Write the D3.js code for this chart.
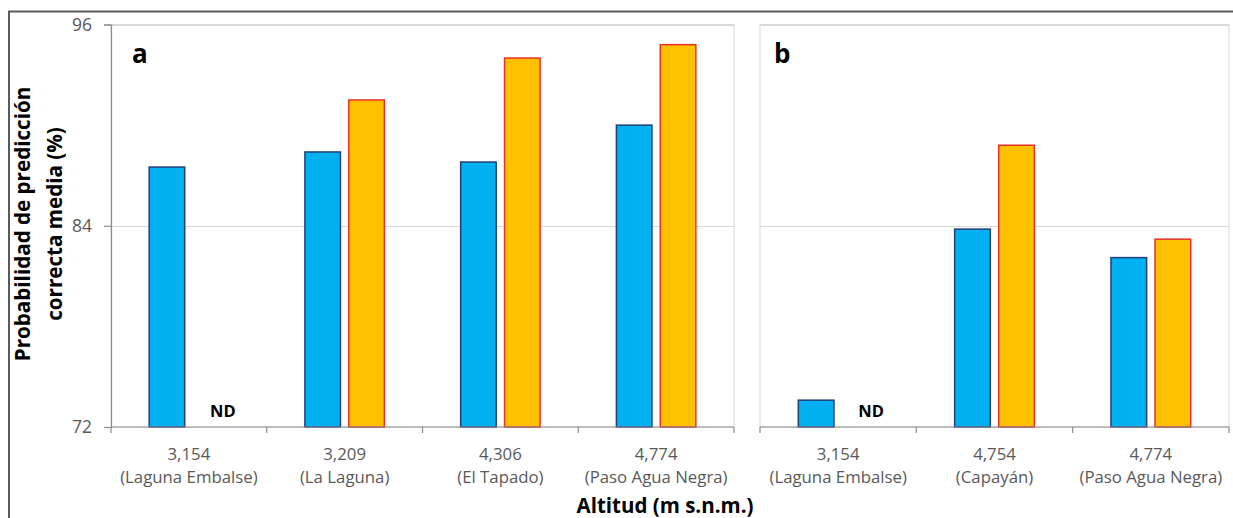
<!DOCTYPE html>
<html>
<head>
<meta charset="utf-8">
<script src="https://cdn.jsdelivr.net/npm/d3@7"></script>
<style>
  html, body { margin: 0; padding: 0; background: #fff; }
  svg { display: block; font-family: "Open Sans", Lato, sans-serif; }
</style>
</head>
<body>
<svg id="chart" width="1233" height="518"></svg>
<script>
// Panel a: four sites
const altitudesA = ["3,154", "3,209", "4,306", "4,774"];
const sitesA = ["Laguna Embalse", "La Laguna", "El Tapado", "Paso Agua Negra"];
const blueA = [87.5, 88.4, 87.8, 90.0];
const orangeA = [null, 91.5, 94.0, 94.8];

// Panel b: three sites
const altitudesB = ["3,154", "4,754", "4,774"];
const sitesB = ["Laguna Embalse", "Capayán", "Paso Agua Negra"];
const blueB = [73.6, 83.8, 82.1];
const orangeB = [null, 88.8, 83.2];

const yTicks = [72, 84, 96];
const seriesKeys = ["blue", "orange"];

const svg = d3.select("#chart");

const fills = { blue: "#00b0f0", orange: "#ffc000" };
const strokes = { blue: "#1f3f7a", orange: "#e8302a" };

// outer frame
svg.append("line").attr("x1", 8).attr("x2", 1233).attr("y1", 11.5).attr("y2", 11.5)
  .attr("stroke", "#5a5a5a").attr("stroke-width", 2);
svg.append("line").attr("x1", 9).attr("x2", 9).attr("y1", 11).attr("y2", 518)
  .attr("stroke", "#5a5a5a").attr("stroke-width", 2);

const y = d3.scaleLinear().domain([72, 96]).range([427, 24.5]);

function panel(opts) {
  const { x0, x1, altitudes, sites, blue, orange, letter, showY, ndOffset } = opts;
  const g = svg.append("g");
  const cats = altitudes.map((a, i) => i);
  const x = d3.scaleBand().domain(cats).range([x0, x1]).paddingInner(0.49).paddingOuter(0.245);
  const xs = d3.scaleBand().domain(seriesKeys).range([0, x.bandwidth()]).paddingInner(0.19);
  const step = (x1 - x0) / cats.length;

  // plot-area border
  g.append("rect").attr("x", x0).attr("y", y(96)).attr("width", x1 - x0).attr("height", y(72) - y(96))
    .attr("fill", "none").attr("stroke", "#d9d9d9").attr("stroke-width", 1);

  // gridlines
  g.selectAll(".grid").data(yTicks.filter(t => t !== 72)).join("line")
    .attr("x1", x0).attr("x2", x1).attr("y1", d => Math.round(y(d)) + 0.5).attr("y2", d => Math.round(y(d)) + 0.5)
    .attr("stroke", "#d9d9d9").attr("stroke-width", 1);

  // bars
  const rows = cats.map(i => ({ i, blue: blue[i], orange: orange[i] }));
  const grp = g.selectAll(".cat").data(rows).join("g").attr("transform", d => `translate(${x(d.i)},0)`);
  grp.selectAll("rect").data(d => seriesKeys.filter(k => d[k] != null).map(k => ({ k, v: d[k] })))
    .join("rect")
    .attr("x", d => xs(d.k)).attr("width", xs.bandwidth())
    .attr("y", d => y(d.v)).attr("height", d => y(72) - y(d.v))
    .attr("fill", d => fills[d.k]).attr("stroke", d => strokes[d.k]).attr("stroke-width", 1.5);

  // ND labels for missing series
  grp.filter(d => d.orange == null).append("text")
    .attr("x", xs("orange") + xs.bandwidth() / 2 + ndOffset).attr("y", 417)
    .attr("text-anchor", "middle").attr("font-weight", "bold").attr("font-size", 16.5)
    .attr("fill", "#000").text("ND");

  // x axis with ticks at category boundaries
  const xa = g.append("g").attr("transform", `translate(0,${y(72)})`);
  xa.append("line").attr("x1", x0).attr("x2", x1).attr("stroke", "#8c8c8c").attr("stroke-width", 1.2);
  xa.selectAll(".tk").data(d3.range(cats.length + 1)).join("line")
    .attr("x1", d => x0 + d * step).attr("x2", d => x0 + d * step)
    .attr("y1", 0).attr("y2", 6).attr("stroke", "#8c8c8c").attr("stroke-width", 1.2);
  const lab = xa.selectAll(".lab").data(cats).join("text")
    .attr("text-anchor", "middle").attr("fill", "#595959").attr("font-size", 16.8)
    .attr("transform", d => `translate(${x(d) + x.bandwidth() / 2},0)`);
  lab.append("tspan").attr("x", 0).attr("y", 32.5).text(d => altitudes[d]);
  lab.append("tspan").attr("x", 0).attr("y", 55.5).text(d => `(${sites[d]})`);

  if (showY) {
    const ya = g.append("g").attr("transform", `translate(${x0},0)`)
      .call(d3.axisLeft(y).tickValues(yTicks).tickSize(7).tickPadding(12).tickFormat(d3.format("d")));
    ya.select(".domain").attr("stroke", "#8c8c8c").attr("stroke-width", 1.2);
    ya.selectAll(".tick line").attr("stroke", "#8c8c8c").attr("stroke-width", 1.2);
    ya.selectAll(".tick text").attr("fill", "#595959").attr("font-size", 17.5)
      .attr("font-family", "'Open Sans', Lato, sans-serif");
  }

  // panel letter
  g.append("text").attr("x", letter.x).attr("y", 63).attr("font-weight", "bold")
    .attr("font-size", 26).attr("fill", "#000").text(letter.t);
}

panel({ x0: 111, x1: 734, altitudes: altitudesA, sites: sitesA, blue: blueA, orange: orangeA,
        letter: { t: "a", x: 132 }, showY: true, ndOffset: 12 });
panel({ x0: 760, x1: 1229, altitudes: altitudesB, sites: sitesB, blue: blueB, orange: orangeB,
        letter: { t: "b", x: 774 }, showY: false, ndOffset: 11 });

// axis titles
svg.append("text").attr("x", 665).attr("y", 513).attr("text-anchor", "middle")
  .attr("font-weight", "bold").attr("font-size", 20.5).attr("fill", "#000")
  .text("Altitud (m s.n.m.)");

const yt = svg.append("text").attr("transform", "translate(0,224) rotate(-90)")
  .attr("text-anchor", "middle").attr("font-weight", "bold").attr("font-size", 20.6).attr("fill", "#000");
yt.append("tspan").attr("x", 0).attr("y", 30).text("Probabilidad de predicción");
yt.append("tspan").attr("x", 0).attr("y", 62).text("correcta media (%)");
</script>
</body>
</html>
